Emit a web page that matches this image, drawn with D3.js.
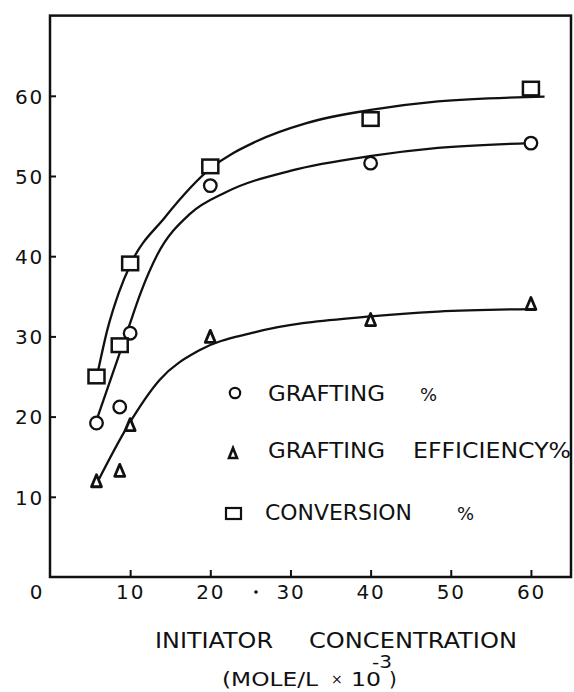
<!DOCTYPE html>
<html>
<head>
<meta charset="utf-8">
<script src="https://cdn.jsdelivr.net/npm/d3@7"></script>
<style>
  body { margin: 0; background: #fff; }
  svg { display: block; }
  text { font-family: "DejaVu Sans", sans-serif; fill: #111; }
  .axis text { font-size: 20px; letter-spacing: 1.8px; }
  .axis line { stroke: #111; stroke-width: 2; }
</style>
</head>
<body>
<svg width="574" height="692"></svg>
<script>
// measured values (initiator concentration, mole/L x 10^-3)
var concentration = [5.8, 8.7, 10, 20, 40, 60];
var grafting = [19.2, 21.2, 30.4, 48.8, 51.6, 54.1];
var efficiency = [12.0, 13.3, 19.0, 30.0, 32.1, 34.1];
var conversion = [25.0, 28.9, 39.1, 51.2, 57.1, 60.9];

// hand drawn fit curves
var graftingFitX = [5.85, 9.7, 11.3, 13.4, 17.5, 22.0, 30.2, 40.1, 48.4, 60];
var graftingFitY = [19.7, 30.8, 35.4, 40.2, 45.3, 48.0, 50.7, 52.5, 53.5, 54.1];
var efficiencyFitX = [5.85, 9.8, 13.7, 18.7, 25.5, 40.0, 48.4, 60];
var efficiencyFitY = [11.7, 19.0, 24.6, 28.3, 30.5, 32.5, 33.1, 33.4];
var conversionFitX = [5.85, 7.2, 8.6, 10.1, 14.3, 20.1, 25.7, 32.0, 39.8, 48.4, 61.7];
var conversionFitY = [25.0, 31.0, 35.5, 39.1, 44.8, 51.0, 54.3, 56.6, 58.2, 59.3, 59.9];

var xTicks = [10, 20, 30, 40, 50, 60];
var yTicks = [10, 20, 30, 40, 50, 60];
var legendLabels = ['GRAFTING', 'GRAFTING', 'CONVERSION'];

var svg = d3.select('svg');

var x = d3.scaleLinear().domain([0, 65]).range([50, 571]);
var y = d3.scaleLinear().domain([0, 70]).range([577, 15.6]);

// frame
svg.append('rect')
    .attr('x', x(0)).attr('y', y(70))
    .attr('width', x(65) - x(0)).attr('height', y(0) - y(70))
    .attr('fill', 'none').attr('stroke', '#111').attr('stroke-width', 2.5);

// axes, ticks point inward
var yAxis = svg.append('g').attr('class', 'axis')
    .attr('transform', `translate(${x(0)},0)`)
    .call(d3.axisLeft(y).tickValues(yTicks).tickSizeInner(-6).tickSizeOuter(0).tickPadding(6));
yAxis.select('.domain').remove();
yAxis.selectAll('text').attr('font-size', null).attr('font-family', null).attr('dy', '0.36em');

var xAxis = svg.append('g').attr('class', 'axis')
    .attr('transform', `translate(0,${y(0)})`)
    .call(d3.axisBottom(x).tickValues(xTicks).tickSizeInner(-7).tickSizeOuter(0).tickPadding(8));
xAxis.select('.domain').remove();
xAxis.selectAll('text').attr('font-size', null).attr('font-family', null);

// shared origin label
svg.append('text')
    .attr('x', 36).attr('y', 599)
    .attr('text-anchor', 'middle')
    .style('font-size', '20px')
    .text('0');
// stray dot in the scan
svg.append('circle').attr('cx', 256).attr('cy', 592).attr('r', 1.8).attr('fill', '#111');

// curves
function fitLine(xs, ys) {
    return d3.line()
        .x(function (d) { return x(d[0]); })
        .y(function (d) { return y(d[1]); })
        .curve(d3.curveMonotoneX)(d3.zip(xs, ys));
}

[[conversionFitX, conversionFitY], [graftingFitX, graftingFitY], [efficiencyFitX, efficiencyFitY]]
    .forEach(function (c) {
        svg.append('path')
            .attr('d', fitLine(c[0], c[1]))
            .attr('fill', 'none')
            .attr('stroke', '#111')
            .attr('stroke-width', 2.3);
    });

// markers
function triPath(w, h) {
    return `M0,${-h / 2}L${w / 2},${h / 2}L${-w / 2},${h / 2}Z`;
}

var pts = d3.zip(concentration, grafting, efficiency, conversion);

svg.selectAll('.mk-circle').data(pts).enter()
    .append('circle').attr('class', 'mk-circle')
    .attr('cx', d => x(d[0])).attr('cy', d => y(d[1]))
    .attr('r', 6.3)
    .attr('fill', '#fff').attr('stroke', '#111').attr('stroke-width', 2.3);

svg.selectAll('.mk-tri').data(pts).enter()
    .append('path').attr('class', 'mk-tri')
    .attr('transform', d => `translate(${x(d[0])},${y(d[2])})`)
    .attr('d', triPath(10, 12))
    .attr('fill', '#fff').attr('stroke', '#111').attr('stroke-width', 2.8)
    .attr('stroke-linejoin', 'round');

svg.selectAll('.mk-sq').data(pts).enter()
    .append('rect').attr('class', 'mk-sq')
    .attr('x', d => x(d[0]) - 8).attr('y', d => y(d[3]) - 6.8)
    .attr('width', 16).attr('height', 13.6)
    .attr('fill', '#fff').attr('stroke', '#111').attr('stroke-width', 2.5);

// legend
var lg = svg.append('g');
lg.append('circle').attr('cx', 235).attr('cy', 393).attr('r', 5.2)
    .attr('fill', '#fff').attr('stroke', '#111').attr('stroke-width', 2.2);
lg.append('path').attr('transform', 'translate(233,453)').attr('d', triPath(8, 10))
    .attr('fill', '#fff').attr('stroke', '#111').attr('stroke-width', 2.6);
lg.append('rect').attr('x', 226).attr('y', 508).attr('width', 15).attr('height', 11)
    .attr('fill', '#fff').attr('stroke', '#111').attr('stroke-width', 2.2);

var legendRows = [
    { y: 401, x: 268, w: 117, pct: 420 },
    { y: 458, x: 268, w: 117, pct: null },
    { y: 520, x: 265, w: 147, pct: 457 }
];
legendRows.forEach(function (r, i) {
    lg.append('text').attr('x', r.x).attr('y', r.y)
        .attr('textLength', r.w).attr('lengthAdjust', 'spacingAndGlyphs')
        .style('font-size', '21px')
        .text(legendLabels[i]);
    if (r.pct !== null) {
        lg.append('text').attr('x', r.pct).attr('y', r.y)
            .style('font-size', '18px').text('%');
    }
});
lg.append('text').attr('x', 413).attr('y', 458)
    .attr('textLength', 158).attr('lengthAdjust', 'spacingAndGlyphs')
    .style('font-size', '21px')
    .text('EFFICIENCY%');

// x axis title
svg.append('text').attr('x', 155).attr('y', 648)
    .attr('textLength', 118).attr('lengthAdjust', 'spacingAndGlyphs')
    .style('font-size', '21px').text('INITIATOR');
svg.append('text').attr('x', 309).attr('y', 648)
    .attr('textLength', 208).attr('lengthAdjust', 'spacingAndGlyphs')
    .style('font-size', '21px').text('CONCENTRATION');
svg.append('text').attr('x', 372).attr('y', 668)
    .attr('textLength', 20).attr('lengthAdjust', 'spacingAndGlyphs')
    .style('font-size', '18px').text('-3');
svg.append('text').attr('x', 222).attr('y', 686)
    .attr('textLength', 96).attr('lengthAdjust', 'spacingAndGlyphs')
    .style('font-size', '20px').text('(MOLE/L');
svg.append('text').attr('x', 331).attr('y', 684)
    .style('font-size', '14px').text('×');
svg.append('text').attr('x', 351).attr('y', 686)
    .attr('textLength', 30).attr('lengthAdjust', 'spacingAndGlyphs')
    .style('font-size', '20px').text('10');
svg.append('text').attr('x', 389).attr('y', 686)
    .style('font-size', '20px').text(')');
</script>
</body>
</html>
